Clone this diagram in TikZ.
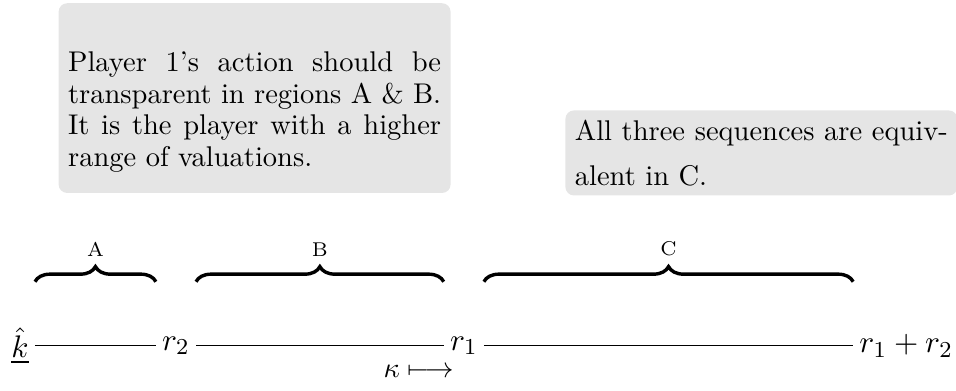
\documentclass[tikz,border=0pt]{standalone}
\usepackage{amsmath}
\usepackage{tikz}
\usetikzlibrary{decorations.pathreplacing, positioning}

\begin{document}
\begin{tikzpicture}[
  pnt/.style={inner sep=2pt, font={\fontsize{11pt}{13pt}\selectfont}},
  brc/.style={decorate, decoration={brace, amplitude=5.3pt}, very thick},
  reg/.style={font=\scriptsize, midway, above=5pt},
  note/.style={rectangle, fill=gray!20, rounded corners=3pt, text width=4.6cm,
               align=justify, inner sep=3.33pt}
]
\useasboundingbox (0,0) rectangle (11.79,4.82);

% comment boxes
\node[note, minimum height=2.34cm, font={\fontsize{10pt}{11.1pt}\selectfont}] (play) at (3.14,3.61) {%
  \rule{0pt}{16.8pt}Player 1's action should be transparent in regions A \& B.
  It is the player with a higher range of valuations.};
\node[note, anchor=north, font={\fontsize{10pt}{15.8pt}\selectfont}] (equiv) at (9.39,3.465) {%
  All three sequences are equivalent in C.};

% the line of values
\node[pnt] (k)   at (0.248,0.555)  {$\underline{\hat{k}}$};
\node[pnt] (r2)  at (2.17,0.555)  {$r_2$};
\node[pnt] (r1)  at (5.72,0.555)  {$r_1$};
\node[pnt] (r12) at (11.175,0.555) {$r_1 + r_2$};
\node[anchor=north east, yshift=2pt] (kap) at (r1.south) {$\kappa \longmapsto$};

\draw (k) -- (r2) -- (r1) -- (r12);

% regions
\draw[brc] ([yshift=22.5pt]k.east)  -- node[reg] (ra) {A} ([yshift=22.5pt]r2.west);
\draw[brc] ([yshift=22.5pt]r2.east) -- node[reg] (rb) {B} ([yshift=22.5pt]r1.west);
\draw[brc] ([yshift=22.5pt]r1.east) -- node[reg] (rc) {C} ([yshift=22.5pt]r12.west);
\end{tikzpicture}
\end{document}
